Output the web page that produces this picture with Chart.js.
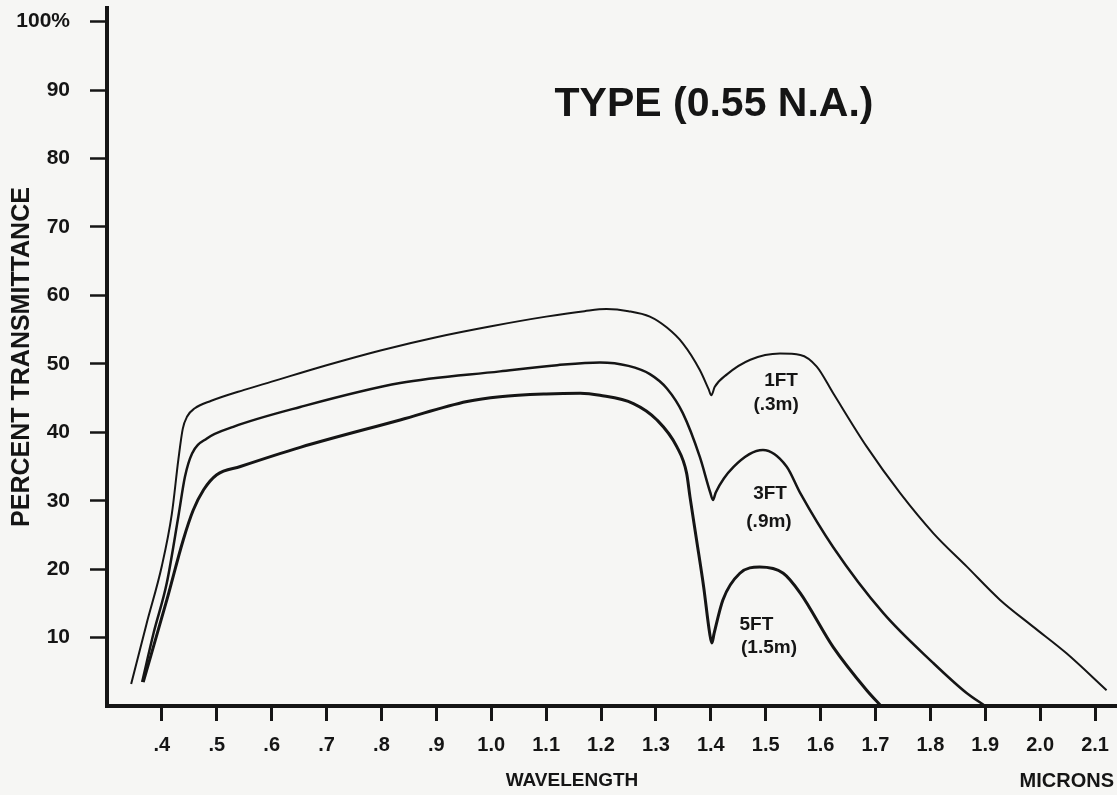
<!DOCTYPE html>
<html>
<head>
<meta charset="utf-8">
<script src="https://cdn.jsdelivr.net/npm/chart.js@4/dist/chart.umd.min.js"></script>
<style>
  html, body { margin: 0; padding: 0; background: #f6f6f4; }
  #wrap { width: 1117px; height: 795px; position: relative; }
</style>
</head>
<body>
<div id="wrap"><canvas id="chart"></canvas></div>
<script>
// Tick labels
const xTicks = [0.4, 0.5, 0.6, 0.7, 0.8, 0.9, 1.0, 1.1, 1.2, 1.3, 1.4, 1.5, 1.6, 1.7, 1.8, 1.9, 2.0, 2.1];
const yTicks = [10, 20, 30, 40, 50, 60, 70, 80, 90, 100];

// 1FT (.3m) - wavelength (microns) / percent transmittance
const wl1ft = [0.344, 0.372, 0.40, 0.418, 0.43, 0.438, 0.446, 0.46, 0.49, 0.55, 0.60, 0.70, 0.80, 0.90, 1.00, 1.10, 1.17, 1.21, 1.25, 1.289, 1.32, 1.349, 1.38, 1.396, 1.401, 1.407, 1.43, 1.472, 1.526, 1.563, 1.593, 1.623, 1.684, 1.745, 1.806, 1.866, 1.927, 1.987, 2.048, 2.121];
const tr1ft = [3.2, 12, 20.5, 28, 36, 40.5, 42.3, 43.5, 44.6, 46.2, 47.4, 49.8, 52.0, 53.9, 55.5, 56.9, 57.7, 58.0, 57.7, 56.9, 55.3, 53.0, 49.1, 46.3, 45.4, 46.6, 48.5, 50.6, 51.5, 51.3, 49.6, 45.7, 37.9, 31.1, 25.2, 20.4, 15.5, 11.6, 7.7, 2.3];

// 3FT (.9m)
const wl3ft = [0.364, 0.385, 0.409, 0.43, 0.442, 0.455, 0.482, 0.53, 0.652, 0.834, 1.016, 1.12, 1.198, 1.25, 1.289, 1.32, 1.349, 1.38, 1.399, 1.404, 1.409, 1.441, 1.495, 1.538, 1.563, 1.623, 1.714, 1.805, 1.866, 1.90];
const tr3ft = [3.5, 10.7, 18.0, 27.7, 33.5, 36.9, 39.1, 40.8, 43.7, 47.2, 48.9, 49.8, 50.2, 49.7, 48.5, 46.4, 42.8, 36.4, 31.2, 30.1, 31.2, 34.9, 37.4, 35.0, 31.1, 23.2, 13.6, 6.3, 1.9, 0];

// 5FT (1.5m)
const wl5ft = [0.366, 0.409, 0.439, 0.457, 0.476, 0.50, 0.543, 0.652, 0.834, 0.956, 1.016, 1.10, 1.162, 1.198, 1.259, 1.302, 1.338, 1.356, 1.362, 1.374, 1.387, 1.398, 1.402, 1.406, 1.422, 1.453, 1.489, 1.532, 1.563, 1.623, 1.684, 1.71];
const tr5ft = [3.5, 15.5, 24.3, 28.6, 31.6, 33.8, 35.0, 37.8, 41.8, 44.5, 45.2, 45.6, 45.7, 45.4, 44.2, 41.8, 37.9, 34.0, 30.6, 24.3, 17.4, 10.6, 9.2, 10.6, 15.5, 19.4, 20.3, 19.4, 16.5, 8.6, 2.3, 0];

const seriesNames = ['1FT (.3m)', '3FT (.9m)', '5FT (1.5m)'];

const toPoints = (xs, ys) => xs.map((x, i) => ({ x, y: ys[i] }));

// Curve label lines, anchored in data coordinates
const curveLabels = [
  { text: '1FT', x: 1.528, y: 47.6 },
  { text: '(.3m)', x: 1.519, y: 44.0 },
  { text: '3FT', x: 1.508, y: 31.0 },
  { text: '(.9m)', x: 1.506, y: 26.9 },
  { text: '5FT', x: 1.483, y: 11.8 },
  { text: '(1.5m)', x: 1.506, y: 8.5 },
];

const INK = '#151515';
const FONT = '"Liberation Sans", Arial, Helvetica, sans-serif';

// Texts drawn over the chart: title, axis names, curve labels
const textPlugin = {
  id: 'texts',
  afterDraw(chart) {
    const { ctx, scales: { x, y } } = chart;
    ctx.save();
    ctx.fillStyle = INK;
    ctx.textAlign = 'center';
    ctx.textBaseline = 'middle';

    ctx.font = 'bold 41px ' + FONT;
    ctx.fillText('TYPE (0.55 N.A.)', 714, 105);

    ctx.font = 'bold 19px ' + FONT;
    curveLabels.forEach(l => {
      ctx.fillText(l.text, x.getPixelForValue(l.x), y.getPixelForValue(l.y));
    });

    ctx.font = 'bold 19px ' + FONT;
    ctx.fillText('WAVELENGTH', 572, 781);
    ctx.textAlign = 'right';
    ctx.font = 'bold 20px ' + FONT;
    ctx.fillText('MICRONS', 1114, 781);

    ctx.textAlign = 'center';
    ctx.translate(22, 357);
    ctx.rotate(-Math.PI / 2);
    ctx.font = 'bold 25px ' + FONT;
    ctx.fillText('PERCENT TRANSMITTANCE', 0, 0);
    ctx.restore();
  }
};

const lineWidths = [2, 2.5, 3];
const allData = [toPoints(wl1ft, tr1ft), toPoints(wl3ft, tr3ft), toPoints(wl5ft, tr5ft)];

new Chart(document.getElementById('chart'), {
  type: 'line',
  data: {
    datasets: allData.map((d, i) => ({
      label: seriesNames[i],
      data: d,
      borderColor: INK,
      borderWidth: lineWidths[i],
      pointRadius: 0,
      fill: false,
      cubicInterpolationMode: 'monotone',
    })),
  },
  options: {
    responsive: true,
    maintainAspectRatio: false,
    animation: false,
    layout: { padding: { top: 8, right: 0, left: 0, bottom: 0 } },
    plugins: {
      legend: { display: false },
      tooltip: { enabled: false },
    },
    scales: {
      x: {
        type: 'linear',
        min: 0.30,
        max: 2.14,
        border: { color: INK, width: 4 },
        grid: { drawOnChartArea: false, tickLength: 15, tickWidth: 3, tickColor: INK },
        ticks: {
          color: INK,
          font: { family: FONT, size: 20, weight: 'bold' },
          padding: 12,
          autoSkip: false,
          maxRotation: 0,
          callback: v => (v < 1 ? v.toFixed(1).slice(1) : v.toFixed(1)),
        },
        afterBuildTicks: s => { s.ticks = xTicks.map(v => ({ value: v })); },
        afterFit: s => { s.height = 89; s.paddingLeft = 0; s.paddingRight = 0; },
      },
      y: {
        min: 0,
        max: 102,
        border: { color: INK, width: 4 },
        grid: { drawOnChartArea: false, tickLength: 17, tickWidth: 2.5, tickColor: INK },
        ticks: {
          color: INK,
          font: { family: FONT, size: 21, weight: 'bold' },
          padding: 20,
          callback: v => (v === 100 ? '100%' : String(v)),
        },
        afterBuildTicks: s => { s.ticks = yTicks.map(v => ({ value: v })); },
        afterFit: s => { s.width = 107; s.paddingTop = 0; s.paddingBottom = 0; },
      },
    },
  },
  plugins: [textPlugin],
});
</script>
</body>
</html>
